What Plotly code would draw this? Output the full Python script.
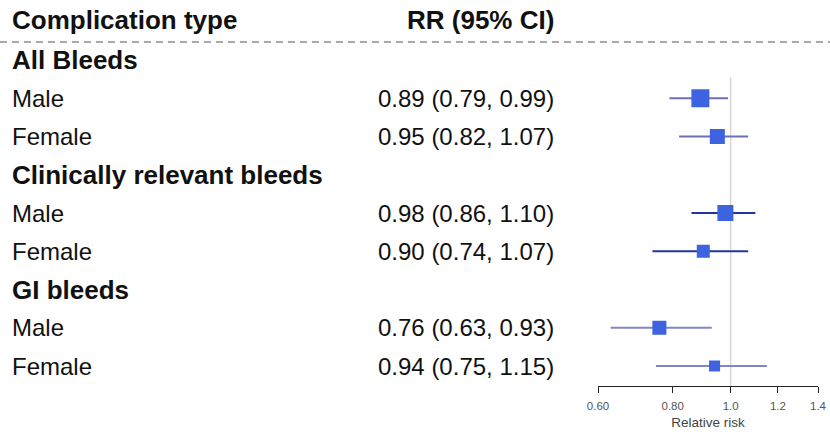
import plotly.graph_objects as go
import math

# ---------------- data ----------------
groups = ["All Bleeds", "Clinically relevant bleeds", "GI bleeds"]
subgroups = ["Male", "Female"]
rr = [0.89, 0.95, 0.98, 0.90, 0.76, 0.94]
lower = [0.79, 0.82, 0.86, 0.74, 0.63, 0.75]
upper = [0.99, 1.07, 1.10, 1.07, 0.93, 1.15]
box_size = [18, 15, 16, 13, 14, 11]
tick_vals = [0.6, 0.8, 1.0, 1.2, 1.4]
tick_text = ["0.60", "0.80", "1.0", "1.2", "1.4"]
header_left = "Complication type"
header_right = "RR (95% CI)"
x_title = "Relative risk"

# ---------------- styles ----------------
W, H = 830, 432
FONT = "Liberation Sans, Arial, Helvetica, sans-serif"
TXT = "#111111"
BOX = "#3d63e0"
group_line_colors = ["#6e6eb4", "#22359e", "#8484cc"]

rows = []
y = 0
k = 0
for gi, g in enumerate(groups):
    rows.append((y, "group", g, None, gi))
    y += 1
    for s in subgroups:
        rows.append((y, "data", s, k, gi))
        y += 1
        k += 1

LX = 10 / W
RX = 556 / W

fig = go.Figure()
ann = []
mx, my, ms = [], [], []
for (yy, kind, label, idx, gi) in rows:
    if kind == "group":
        ann.append(dict(x=LX, y=yy, xref="paper", yref="y", text=label,
                        xanchor="left", yanchor="middle", showarrow=False,
                        font=dict(family=FONT, size=26, color=TXT, weight="bold")))
    else:
        ann.append(dict(x=LX, y=yy, xref="paper", yref="y", text=label,
                        xanchor="left", yanchor="middle", showarrow=False,
                        font=dict(family=FONT, size=24, color=TXT)))
        val = f"{rr[idx]:.2f} ({lower[idx]:.2f}, {upper[idx]:.2f})"
        ann.append(dict(x=RX, y=yy, xref="paper", yref="y", text=val,
                        xanchor="right", yanchor="middle", showarrow=False,
                        font=dict(family=FONT, size=24, color=TXT)))
        fig.add_trace(go.Scatter(x=[lower[idx], upper[idx]], y=[yy, yy], mode="lines",
                                 line=dict(color=group_line_colors[gi], width=2),
                                 hoverinfo="skip"))
        mx.append(rr[idx]); my.append(yy); ms.append(box_size[idx])

fig.add_trace(go.Scatter(x=mx, y=my, mode="markers", opacity=1,
                         marker=dict(symbol="square", size=ms, color=BOX, opacity=1,
                                     line=dict(width=0)),
                         hoverinfo="skip"))

hy = -1.05
ann.append(dict(x=LX, y=hy, xref="paper", yref="y", text=header_left,
                xanchor="left", yanchor="middle", showarrow=False,
                font=dict(family=FONT, size=26, color=TXT, weight="bold")))
ann.append(dict(x=RX, y=hy, xref="paper", yref="y", text=header_right,
                xanchor="right", yanchor="middle", showarrow=False,
                font=dict(family=FONT, size=26, color=TXT, weight="bold")))

last = rows[-1][0]
ybot = last + (386 - 366) / 38.25
ytop = -60 / 38.25

shapes = [
    dict(type="line", xref="paper", yref="y", x0=0, x1=1, y0=-0.47, y1=-0.47,
         line=dict(color="#555555", width=1, dash="7px,5px")),
    dict(type="line", xref="x", yref="y", x0=1, x1=1, y0=0.45, y1=ybot,
         line=dict(color="#d6d6d6", width=1.5), layer="below"),
]

fig.update_layout(
    width=W, height=H,
    margin=dict(l=0, r=0, t=0, b=H - 386, pad=0, autoexpand=False),
    plot_bgcolor="white", paper_bgcolor="white",
    showlegend=False, hovermode=False,
    annotations=ann, shapes=shapes,
    xaxis=dict(type="log", range=[math.log10(0.6), math.log10(1.4)],
               domain=[598 / W, 818 / W], automargin=False,
               showline=True, linecolor="#222222", linewidth=1,
               ticks="outside", ticklen=6, tickcolor="#222222", tickwidth=1,
               tickvals=tick_vals, ticktext=tick_text,
               tickfont=dict(family=FONT, size=11.5, color="#555555"),
               ticklabelstandoff=3,
               showgrid=False, zeroline=False,
               title=dict(text=x_title, font=dict(family=FONT, size=13.5, color="#444444"),
                          standoff=6)),
    yaxis=dict(range=[ybot, ytop], visible=False, showgrid=False, zeroline=False,
               automargin=False),
)

fig.write_html("out.html", config={"displayModeBar": False},
               post_script="document.body.style.margin='0';")
